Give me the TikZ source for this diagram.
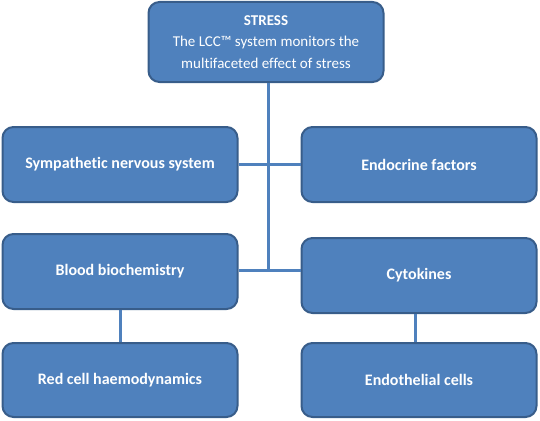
\documentclass[tikz,border=0pt]{standalone}
\usepackage{fontspec}
\setmainfont[Ligatures=NoCommon]{Carlito}
\definecolor{boxfill}{HTML}{4F81BD}
\definecolor{boxline}{HTML}{385D8A}
\begin{document}
\begin{tikzpicture}[x=1pt,y=-1pt,
  box/.style={draw=boxline,line width=2pt,fill=boxfill,rounded corners=11pt,
    text=white,font=\fontsize{16}{21}\selectfont\bfseries,align=center,inner sep=0pt},
  link/.style={draw=boxfill,line width=3pt}]
\useasboundingbox (0,0) rectangle (540,420);
\node[box,minimum width=235pt,minimum height=80pt,font=\fontsize{15}{21.5}\selectfont] (stress) at (266,42)
  {\bfseries STRESS\\The LCC™ system monitors the\\multifaceted effect of stress};
\node[box,minimum width=235pt,minimum height=75pt] (symp) at (120,164.5) {Sympathetic nervous system};
\node[box,minimum width=235pt,minimum height=75pt] (endo) at (419,164.5) {Endocrine factors};
\node[box,minimum width=235pt,minimum height=75pt] (blood) at (120,271.5) {Blood biochemistry};
\node[box,minimum width=235pt,minimum height=75pt] (cyto) at (419,275.5) {Cytokines};
\node[box,minimum width=235pt,minimum height=74pt] (red) at (120,380) {Red cell haemodynamics};
\node[box,minimum width=235pt,minimum height=74pt] (endt) at (419,380) {Endothelial cells};
\coordinate (top) at (268,270);
\coordinate (rx) at (415,0);
\draw[link] (stress.south -| top) -- (top);
\draw[link] (symp.east) -- (symp.east -| endo.west);
\draw[link] (blood.east |- top) -- (cyto.west |- top);
\draw[link] (blood.south) -- (red.north);
\draw[link] (cyto.south -| rx) -- (endt.north -| rx);
\end{tikzpicture}
\end{document}
